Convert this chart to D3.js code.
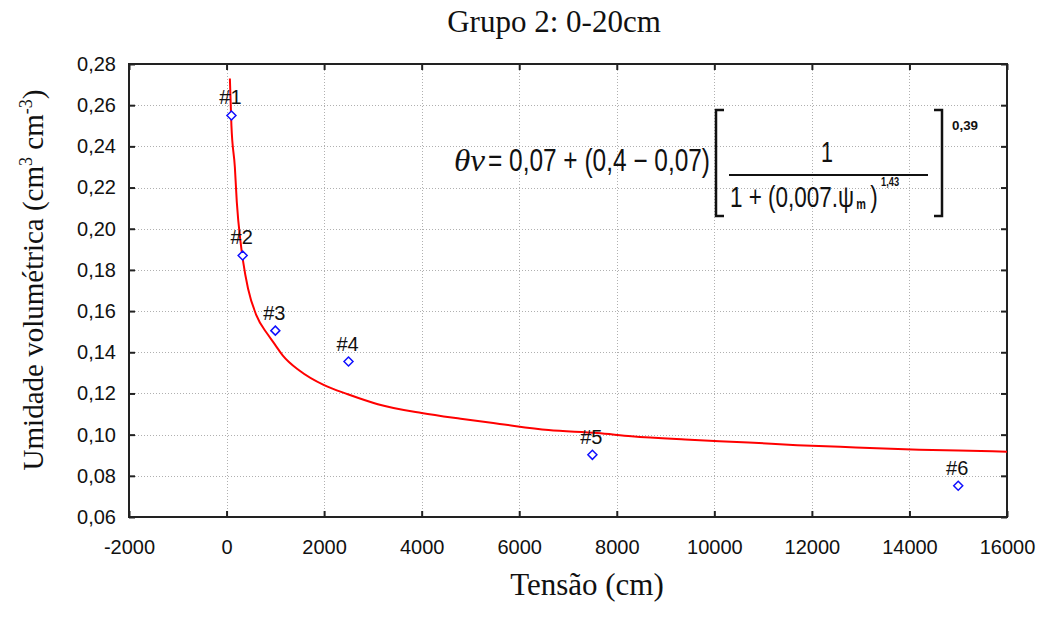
<!DOCTYPE html>
<html>
<head>
<meta charset="utf-8">
<script src="https://cdnjs.cloudflare.com/ajax/libs/d3/7.8.5/d3.min.js"></script>
<style>
  html, body { margin: 0; padding: 0; background: #fff; }
  svg { display: block; }
</style>
</head>
<body>
<svg id="chart" width="1044" height="621"></svg>
<script>
// ---- data ----
const xTicks = [-2000, 0, 2000, 4000, 6000, 8000, 10000, 12000, 14000, 16000];
const yTicks = [0.06, 0.08, 0.10, 0.12, 0.14, 0.16, 0.18, 0.20, 0.22, 0.24, 0.26, 0.28];
const pointLabels = ["#1", "#2", "#3", "#4", "#5", "#6"];
const pointTension = [100, 330, 1000, 2500, 7500, 15000];
const pointMoisture = [0.255, 0.187, 0.1505, 0.1355, 0.0902, 0.0752];
const curveTension = [68, 100, 170, 210, 290, 340, 440, 610, 850, 1000, 1150, 1500, 2000, 2500, 3100, 4000, 4800, 5600, 6600, 7600, 8300, 9400, 10700, 11700, 12900, 14200, 15700, 16000];
const curveMoisture = [0.273, 0.250, 0.230, 0.213, 0.193, 0.184, 0.171, 0.158, 0.1485, 0.1435, 0.1385, 0.131, 0.124, 0.1195, 0.1148, 0.1105, 0.1077, 0.1052, 0.1022, 0.1008, 0.0992, 0.0976, 0.0962, 0.0949, 0.0938, 0.0927, 0.0919, 0.0917];
const titleText = "Grupo 2: 0-20cm";
const xTitle = "Tensão (cm)";

// ---- layout ----
const svg = d3.select("#chart");
const L = 129, R = 1007, T = 64, B = 517;
const x = d3.scaleLinear().domain([-2000, 16000]).range([L, R]);
const y = d3.scaleLinear().domain([0.06, 0.28]).range([B, T]);
const fmtY = v => d3.format(".2f")(v).replace(".", ",");
const sans = "'Liberation Sans', Arial, sans-serif";
const serif = "'Liberation Serif', 'Times New Roman', serif";

// grid
const grid = svg.append("g").attr("stroke", "#b0b0b0").attr("stroke-width", 1).attr("stroke-dasharray", "1,2");
grid.selectAll("line.vx").data(xTicks.filter(d => d > -2000 && d < 16000)).enter().append("line")
  .attr("x1", d => Math.round(x(d)) + 0.5).attr("x2", d => Math.round(x(d)) + 0.5)
  .attr("y1", T).attr("y2", B);
grid.selectAll("line.hy").data(yTicks.filter(d => d > 0.061 && d < 0.279)).enter().append("line")
  .attr("y1", d => Math.round(y(d)) + 0.5).attr("y2", d => Math.round(y(d)) + 0.5)
  .attr("x1", L).attr("x2", R);

// axes
const xAxis = svg.append("g").attr("transform", `translate(0,${B})`)
  .call(d3.axisBottom(x).tickValues(xTicks).tickFormat(d => String(d)).tickSizeInner(-6).tickSizeOuter(0).tickPadding(0));
xAxis.selectAll("text").attr("y", 37).attr("dy", 0).style("font-family", sans).style("font-size", "20px").attr("fill", "#111");
const xTop = svg.append("g").attr("transform", `translate(0,${T})`)
  .call(d3.axisTop(x).tickValues(xTicks).tickFormat("").tickSizeInner(-6).tickSizeOuter(0));
const yAxis = svg.append("g").attr("transform", `translate(${L},0)`)
  .call(d3.axisLeft(y).tickValues(yTicks).tickFormat(fmtY).tickSizeInner(-6).tickSizeOuter(0).tickPadding(13));
yAxis.selectAll("text").attr("x", -13).style("font-family", sans).style("font-size", "20px").attr("fill", "#111");
const yRight = svg.append("g").attr("transform", `translate(${R},0)`)
  .call(d3.axisRight(y).tickValues(yTicks).tickFormat("").tickSizeInner(-6).tickSizeOuter(0));
[xAxis, xTop, yAxis, yRight].forEach(g => {
  g.select(".domain").remove();
  g.selectAll(".tick line").attr("stroke", "#222").attr("stroke-width", 2);
});
svg.append("rect").attr("x", L).attr("y", T).attr("width", R - L).attr("height", B - T)
  .attr("fill", "none").attr("stroke", "#222").attr("stroke-width", 2);

// curve
const curveData = curveTension.map((t, i) => [t, curveMoisture[i]]);
svg.append("path").datum(curveData)
  .attr("fill", "none").attr("stroke", "#ff0000").attr("stroke-width", 2)
  .attr("d", d3.line().x(d => x(d[0])).y(d => y(d[1])).curve(d3.curveMonotoneX));

// points
const pts = pointTension.map((t, i) => ({ t, m: pointMoisture[i], label: pointLabels[i] }));
svg.selectAll("path.pt").data(pts).enter().append("path")
  .attr("d", d => { const cx = x(d.t), cy = y(d.m), r = 4.5; return `M${cx},${cy - r}L${cx + r},${cy}L${cx},${cy + r}L${cx - r},${cy}Z`; })
  .attr("fill", "#fff").attr("stroke", "#1010ff").attr("stroke-width", 1.5);
svg.selectAll("text.pl").data(pts).enter().append("text")
  .attr("x", d => x(d.t) - 1).attr("y", d => y(d.m) - 11)
  .attr("text-anchor", "middle").style("font-family", sans).style("font-size", "20px").attr("fill", "#111")
  .text(d => d.label);

// equation
const eq = svg.append("g").attr("fill", "#111");
eq.append("text").attr("x", 454).attr("y", 171).attr("textLength", 31).attr("lengthAdjust", "spacingAndGlyphs")
  .style("font-family", serif).style("font-style", "italic").style("font-size", "32px").text("θv");
eq.append("text").attr("x", 488).attr("y", 171).attr("textLength", 222).attr("lengthAdjust", "spacingAndGlyphs")
  .style("font-family", sans).style("font-size", "31px").text("= 0,07 + (0,4 − 0,07)");
eq.append("path").attr("d", "M724,110 L716,110 L716,216 L724,216").attr("fill", "none").attr("stroke", "#111").attr("stroke-width", 2.5);
eq.append("path").attr("d", "M934,110 L942,110 L942,216 L934,216").attr("fill", "none").attr("stroke", "#111").attr("stroke-width", 2.5);
eq.append("line").attr("x1", 729).attr("x2", 928).attr("y1", 175).attr("y2", 175).attr("stroke", "#111").attr("stroke-width", 2);
eq.append("text").attr("x", 827).attr("y", 162).attr("text-anchor", "middle").attr("textLength", 12).attr("lengthAdjust", "spacingAndGlyphs")
  .style("font-family", sans).style("font-size", "29px").text("1");
// denominator: horizontally condensed group
const den = eq.append("g").attr("transform", "translate(730,207) scale(0.775,1)").style("font-family", sans);
den.append("text").attr("x", 0).attr("y", 0).style("font-size", "29px").text("1 + (0,007.ψ");
den.append("text").attr("x", 163).attr("y", 2).style("font-size", "14px").style("font-weight", "bold").text("m");
den.append("text").attr("x", 181).attr("y", 0).style("font-size", "29px").text(")");
den.append("text").attr("x", 195).attr("y", -21).style("font-size", "12px").style("font-weight", "bold").text("1,43");
eq.append("text").attr("x", 952).attr("y", 130).attr("textLength", 26).attr("lengthAdjust", "spacingAndGlyphs")
  .style("font-family", sans).style("font-size", "13px").style("font-weight", "bold").text("0,39");

// titles
svg.append("text").attr("x", 554).attr("y", 32).attr("text-anchor", "middle")
  .style("font-family", serif).style("font-size", "31px").attr("fill", "#111").text(titleText);
svg.append("text").attr("x", 587).attr("y", 595).attr("text-anchor", "middle")
  .style("font-family", serif).style("font-size", "31px").attr("fill", "#111").text(xTitle);
const yt = svg.append("text").attr("transform", "translate(43,280) rotate(-90)").attr("text-anchor", "middle")
  .style("font-family", serif).style("font-size", "29px").attr("fill", "#111");
yt.append("tspan").text("Umidade volumétrica (cm");
yt.append("tspan").attr("dy", -11).style("font-size", "18px").text("3");
yt.append("tspan").attr("dy", 11).text(" cm");
yt.append("tspan").attr("dy", -11).style("font-size", "18px").text("-3");
yt.append("tspan").attr("dy", 11).text(")");
</script>
</body>
</html>
